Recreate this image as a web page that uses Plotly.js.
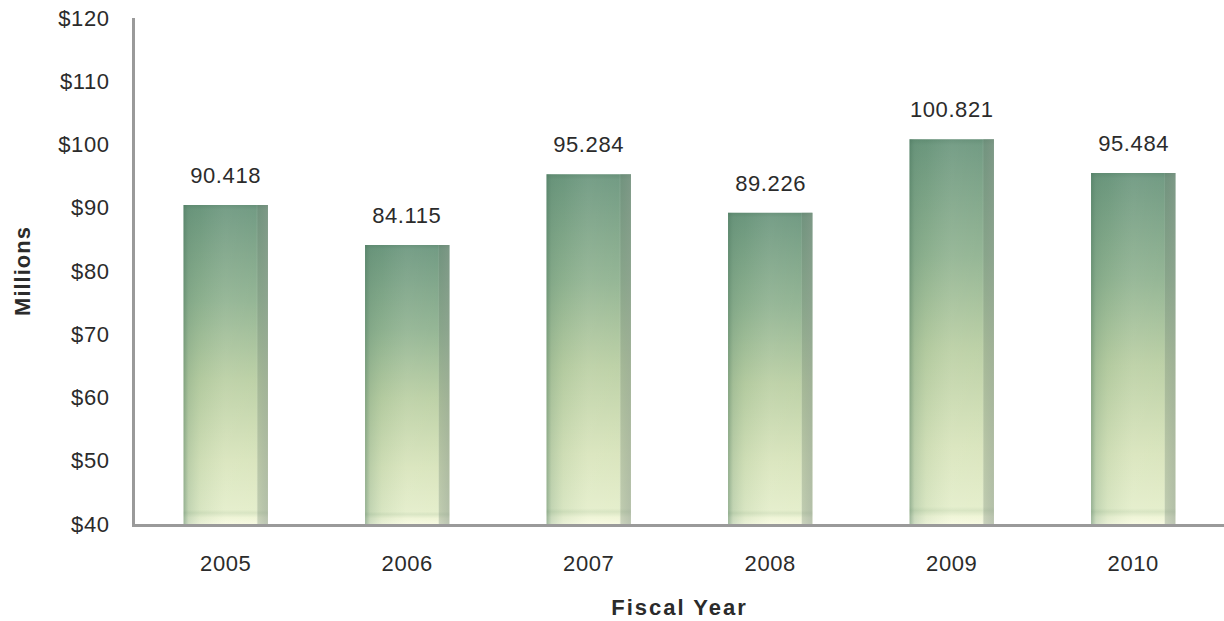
<!DOCTYPE html>
<html>
<head>
<meta charset="utf-8">
<script src="https://cdn.plot.ly/plotly-3.0.1.min.js"></script>
<style>
html,body{margin:0;padding:0;background:#fff;}
#chart{width:1224px;height:621px;}
#chart .xtick text, #chart .ytick text, #chart .annotation-text{letter-spacing:0.6px;}
#chart .ytitle{letter-spacing:1px;}
#chart .xtitle{letter-spacing:2px;}
</style>
</head>
<body>
<div id="chart"></div>
<script>
var years = ["2005", "2006", "2007", "2008", "2009", "2010"];
var values = [90.418, 84.115, 95.284, 89.226, 100.821, 95.484];
var valueLabels = ["90.418", "84.115", "95.284", "89.226", "100.821", "95.484"];
var tickVals = [40, 50, 60, 70, 80, 90, 100, 110, 120];
var tickText = ["$40", "$50", "$60", "$70", "$80", "$90", "$100", "$110", "$120"];

var font = "Liberation Sans, Arial, sans-serif";

var trace = {
  type: "bar",
  x: years,
  y: values.map(function(v){ return v - 40; }),
  base: 40,
  marker: {color: "#a9c39a", line: {width: 0}},
  width: 0.465,
  hoverinfo: "none"
};

var annotations = years.map(function(yr, i){
  return {
    x: i, y: values[i], xref: "x", yref: "y",
    text: valueLabels[i], showarrow: false,
    yanchor: "bottom", yshift: 15,
    font: {family: font, size: 22, color: "#2b2b2b"}
  };
});

var layout = {
  width: 1224, height: 621,
  margin: {l: 135, r: 0, t: 18, b: 97},
  paper_bgcolor: "#ffffff", plot_bgcolor: "#ffffff",
  showlegend: false,
  xaxis: {
    type: "category",
    range: [-0.5, 5.5],
    showline: true, linecolor: "#9a9a9a", linewidth: 3,
    showgrid: false, zeroline: false, ticks: "",
    ticklabelstandoff: 18,
    tickfont: {family: font, size: 22, color: "#2b2b2b"},
    title: {text: "<b>Fiscal Year</b>", font: {family: font, size: 22, color: "#2b2b2b"}, standoff: 25}
  },
  yaxis: {
    range: [40, 120],
    tickvals: tickVals, ticktext: tickText,
    showline: true, linecolor: "#9a9a9a", linewidth: 3,
    showgrid: false, zeroline: false, ticks: "",
    ticklabelstandoff: 18,
    tickfont: {family: font, size: 22, color: "#2b2b2b"},
    title: {text: "<b>Millions</b>", font: {family: font, size: 22, color: "#2b2b2b"}, standoff: 24}
  },
  annotations: annotations
};

Plotly.newPlot("chart", [trace], layout, {displayModeBar: false, staticPlot: true}).then(function(){
  var svg = document.querySelector("#chart svg.main-svg");
  var NS = "http://www.w3.org/2000/svg";
  var defs = svg.querySelector("defs") || svg.insertBefore(document.createElementNS(NS, "defs"), svg.firstChild);
  function grad(id, x2, y2, stops){
    var g = document.createElementNS(NS, "linearGradient");
    g.setAttribute("id", id);
    g.setAttribute("x1", "0"); g.setAttribute("y1", "0");
    g.setAttribute("x2", x2); g.setAttribute("y2", y2);
    stops.forEach(function(s){
      var st = document.createElementNS(NS, "stop");
      st.setAttribute("offset", s[0]);
      st.setAttribute("stop-color", s[1]);
      st.setAttribute("stop-opacity", s[2]);
      g.appendChild(st);
    });
    defs.appendChild(g);
  }
  grad("barV", "0", "1", [["0", "#5f8b72", 1], ["0.015", "#6c977e", 1], ["0.3", "#8fb290", 1], ["0.55", "#bacfa3", 1], ["0.8", "#d8e4bb", 1], ["0.955", "#e3edc9", 1], ["0.965", "#d6e3bf", 1], ["0.98", "#eef4d4", 1], ["1", "#f6f9e0", 1]]);
  grad("barH", "1", "0", [["0", "#47745a", 0.5], ["0.06", "#5f8a6f", 0.25], ["0.2", "#6f9a7b", 0.1], ["0.5", "#ffffff", 0.08], ["0.86", "#ffffff", 0.05], ["0.88", "#7d8e80", 0.35], ["1", "#8c9a8e", 0.55]]);
  var paths = svg.querySelectorAll(".bars .point path");
  paths.forEach(function(p){
    p.style.fill = "url(#barV)";
    var c = p.cloneNode(true);
    c.style.fill = "url(#barH)";
    c.style.stroke = "none";
    p.parentNode.appendChild(c);
  });
});
</script>
</body>
</html>
